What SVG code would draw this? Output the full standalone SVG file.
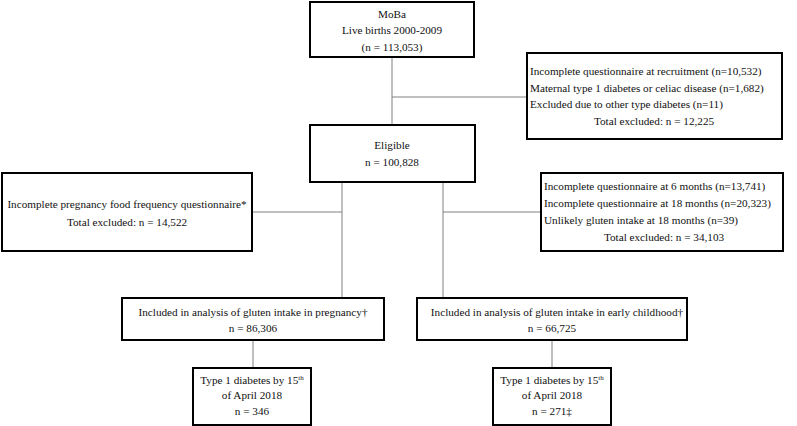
<svg xmlns="http://www.w3.org/2000/svg" width="797" height="426" viewBox="0 0 797 426">
<style>
.box{fill:#fff;stroke:#000;stroke-width:2}
.t{font-family:"Liberation Serif","Times New Roman",serif;font-size:11.2px;fill:#111}
.c{text-anchor:middle}
.ln{stroke:#808080;stroke-width:1;fill:none}
.sup{font-size:7px}
</style>
<rect width="797" height="426" fill="#fff"/>
<g id="connectors">
<path class="ln" d="M392 57V125M392 97H527"/>
<path class="ln" d="M342 182V298M252 212H342"/>
<path class="ln" d="M443 182V298M443 212H541"/>
<path class="ln" d="M253 340V368"/>
<path class="ln" d="M552 340V368"/>
</g>
<g id="moba">
<rect class="box" x="310" y="2" width="164" height="55"/>
<text class="t c" x="392" y="18">MoBa</text>
<text class="t c" x="392" y="34">Live births 2000-2009</text>
<text class="t c" x="392" y="51">(n = 113,053)</text>
</g>
<g id="excl1">
<rect class="box" x="527" y="53" width="255" height="86"/>
<text class="t" x="530" y="75">Incomplete questionnaire at recruitment (n=10,532)</text>
<text class="t" x="530" y="92">Maternal type 1 diabetes or celiac disease (n=1,682)</text>
<text class="t" x="530" y="108">Excluded due to other type diabetes (n=11)</text>
<text class="t c" x="654" y="125">Total excluded: n = 12,225</text>
</g>
<g id="eligible">
<rect class="box" x="310" y="125" width="165" height="57"/>
<text class="t c" x="392" y="149">Eligible</text>
<text class="t c" x="392" y="166">n = 100,828</text>
</g>
<g id="excl_preg">
<rect class="box" x="2" y="173" width="250" height="78"/>
<text class="t c" x="127" y="208">Incomplete pregnancy food frequency questionnaire*</text>
<text class="t c" x="127" y="226">Total excluded: n = 14,522</text>
</g>
<g id="excl_child">
<rect class="box" x="541" y="173" width="242" height="78"/>
<text class="t" x="544" y="190">Incomplete questionnaire at 6 months (n=13,741)</text>
<text class="t" x="544" y="207">Incomplete questionnaire at 18 months (n=20,323)</text>
<text class="t" x="544" y="224">Unlikely gluten intake at 18 months (n=39)</text>
<text class="t c" x="664" y="241">Total excluded: n = 34,103</text>
</g>
<g id="incl_preg">
<rect class="box" x="122" y="298" width="262" height="42"/>
<text class="t c" x="253" y="316">Included in analysis of gluten intake in pregnancy†</text>
<text class="t c" x="253" y="332">n = 86,306</text>
</g>
<g id="incl_child">
<rect class="box" x="417" y="298" width="270" height="42"/>
<text class="t c" x="557" y="316">Included in analysis of gluten intake in early childhood†</text>
<text class="t c" x="552" y="332">n = 66,725</text>
</g>
<g id="t1d_preg">
<rect class="box" x="193" y="368" width="118" height="57"/>
<text class="t c" x="252" y="384">Type 1 diabetes by 15<tspan class="sup" dy="-4">th</tspan></text>
<text class="t c" x="252" y="399">of April 2018</text>
<text class="t c" x="252" y="415">n = 346</text>
</g>
<g id="t1d_child">
<rect class="box" x="493" y="368" width="118" height="57"/>
<text class="t c" x="552" y="384">Type 1 diabetes by 15<tspan class="sup" dy="-4">th</tspan></text>
<text class="t c" x="552" y="399">of April 2018</text>
<text class="t c" x="552" y="415">n = 271‡</text>
</g>
</svg>
